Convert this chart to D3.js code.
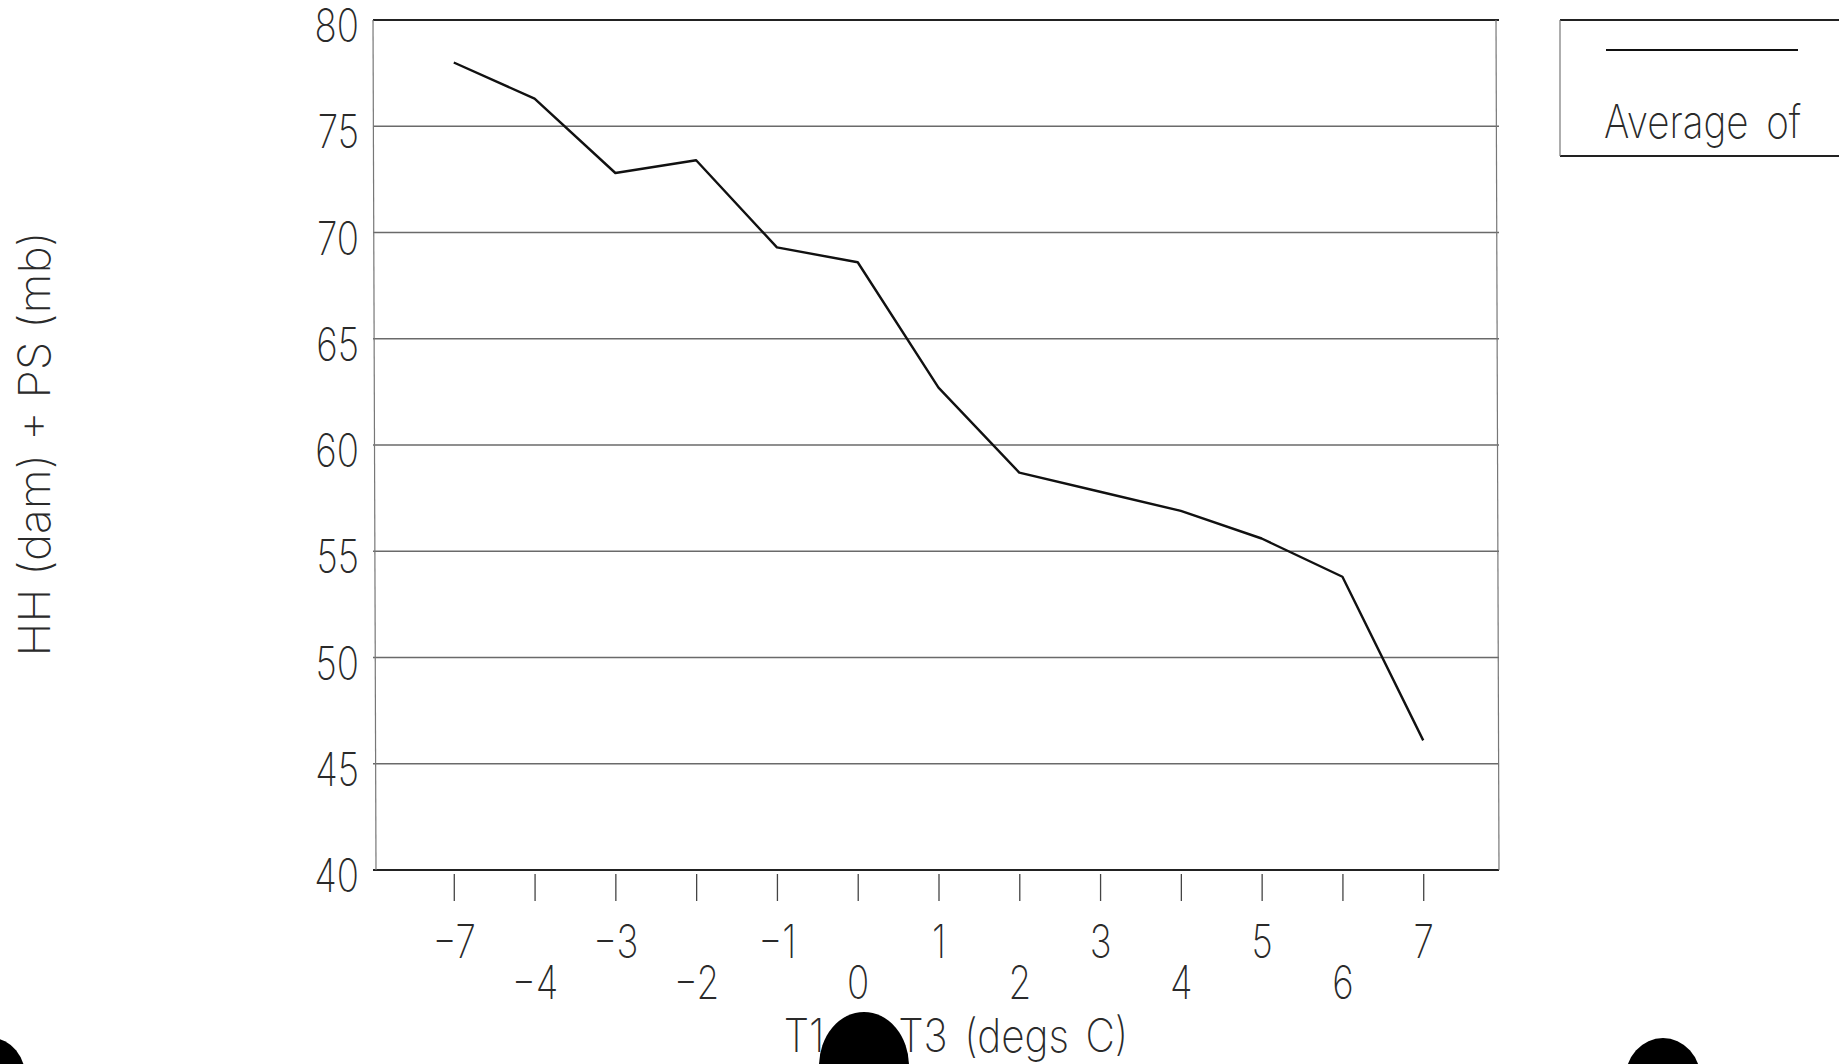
<!DOCTYPE html>
<html>
<head>
<meta charset="utf-8">
<script src="https://cdn.jsdelivr.net/npm/d3@7"></script>
<style>
  html, body { margin: 0; padding: 0; background: #fff; }
  svg { display: block; }
  text { font-family: "Inter", "DejaVu Sans", sans-serif; font-weight: 200; fill: #2a2a2a; }
</style>
</head>
<body>
<script>
// ---- data ----
const categories = ["-7", "-4", "-3", "-2", "-1", "0", "1", "2", "3", "4", "5", "6", "7"];
const tickLabels = ["\u22127", "\u22124", "\u22123", "\u22122", "\u22121", "0", "1", "2", "3", "4", "5", "6", "7"];
const averageValues = [78.0, 76.3, 72.8, 73.4, 69.3, 68.6, 62.7, 58.7, 57.8, 56.9, 55.6, 53.8, 46.1];
const yTicks = [40, 45, 50, 55, 60, 65, 70, 75, 80];
const seriesName = "Average of";
const xTitle = "T1 \u2014 T3 (degs C)";
const yTitle = "HH (dam) + PS (mb)";

// ---- layout ----
const W = 1839, H = 1064;
const plot = { left: 373, right: 1499, top: 20, bottom: 870 };
const sx = 0.8; // horizontal condensation of the plotter font

const svg = d3.select("body").append("svg").attr("width", W).attr("height", H);

const x = d3.scalePoint().domain(categories).range([plot.left, plot.right + 5]).padding(1);
const y = d3.scaleLinear().domain([40, 80]).range([plot.bottom, plot.top]);

// gridlines
svg.append("g").selectAll("line")
  .data(yTicks.filter(v => v > 40 && v < 80))
  .join("line")
  .attr("x1", plot.left).attr("x2", plot.right)
  .attr("y1", d => y(d)).attr("y2", d => y(d))
  .attr("stroke", "#6a6a6a").attr("stroke-width", 1.3);

// frame
const frame = svg.append("g");
frame.append("line").attr("x1", plot.left).attr("x2", plot.right).attr("y1", y(80)).attr("y2", y(80))
  .attr("stroke", "#222").attr("stroke-width", 2);
frame.append("line").attr("x1", plot.left).attr("x2", plot.right).attr("y1", y(40)).attr("y2", y(40))
  .attr("stroke", "#222").attr("stroke-width", 2);
frame.append("line").attr("x1", plot.left).attr("x2", plot.left + 3).attr("y1", y(80)).attr("y2", y(40))
  .attr("stroke", "#777").attr("stroke-width", 1.2);
frame.append("line").attr("x1", plot.right - 3).attr("x2", plot.right).attr("y1", y(80)).attr("y2", y(40))
  .attr("stroke", "#777").attr("stroke-width", 1.2);

// y axis labels
const yAxis = svg.append("g")
  .attr("transform", `translate(${plot.left},0)`)
  .call(d3.axisLeft(y).tickValues(yTicks).tickSize(0).tickFormat(d3.format("d")));
yAxis.select(".domain").remove();
yAxis.selectAll("text")
  .attr("x", 0).attr("dy", "0.36em")
  .attr("transform", `translate(-14,5) scale(${sx},1)`)
  .attr("text-anchor", "end")
  .style("font-size", "46px").attr("font-family", null).attr("fill", null);

// x axis ticks + labels (alternating rows)
const xAxis = svg.append("g")
  .attr("transform", `translate(0,${plot.bottom + 4})`)
  .call(d3.axisBottom(x).tickSize(27).tickFormat((d, i) => tickLabels[i]));
xAxis.select(".domain").remove();
xAxis.selectAll(".tick line").attr("stroke", "#444").attr("stroke-width", 1.3);
xAxis.selectAll("text")
  .attr("y", 0).attr("dy", null)
  .attr("transform", (d, i) => `translate(0,${i % 2 === 0 ? 84 : 125}) scale(${sx},1)`)
  .attr("text-anchor", "middle")
  .style("font-size", "46px").attr("font-family", null).attr("fill", null);

// line
svg.append("path")
  .datum(categories.map((c, i) => ({ c, v: averageValues[i] })))
  .attr("fill", "none").attr("stroke", "#111").attr("stroke-width", 2.4)
  .attr("stroke-linejoin", "round")
  .attr("d", d3.line().x(d => x(d.c)).y(d => y(d.v)));

// legend
const lg = svg.append("g");
lg.append("line").attr("x1", 1560).attr("x2", W).attr("y1", 20).attr("y2", 20).attr("stroke", "#222").attr("stroke-width", 2);
lg.append("line").attr("x1", 1560).attr("x2", W).attr("y1", 156).attr("y2", 156).attr("stroke", "#222").attr("stroke-width", 2);
lg.append("line").attr("x1", 1560).attr("x2", 1560).attr("y1", 20).attr("y2", 156).attr("stroke", "#777").attr("stroke-width", 1.2);
lg.append("line").attr("x1", 1606).attr("x2", 1798).attr("y1", 50).attr("y2", 50).attr("stroke", "#111").attr("stroke-width", 2);
lg.append("text").attr("transform", `translate(1604,138) scale(0.84,1)`)
  .style("font-size", "46px").style("word-spacing", "8px").text(seriesName);

// axis titles
svg.append("text")
  .attr("transform", `translate(${(plot.left + plot.right) / 2 + 20},1052) scale(0.88,1)`)
  .attr("text-anchor", "middle").style("font-size", "46px").style("word-spacing", "6px").text(xTitle);
svg.append("text")
  .attr("transform", `translate(50,444) rotate(-90)`)
  .attr("text-anchor", "middle").style("font-size", "44px")
  .attr("textLength", 425).attr("lengthAdjust", "spacingAndGlyphs").text(yTitle);

// scan artefacts (punch holes)
const holes = svg.append("g").attr("fill", "#000");
holes.append("ellipse").attr("cx", -8).attr("cy", 1080).attr("rx", 34).attr("ry", 42);
holes.append("ellipse").attr("cx", 864).attr("cy", 1066).attr("rx", 45).attr("ry", 54);
holes.append("ellipse").attr("cx", 1663).attr("cy", 1080).attr("rx", 38).attr("ry", 42);
</script>
</body>
</html>
